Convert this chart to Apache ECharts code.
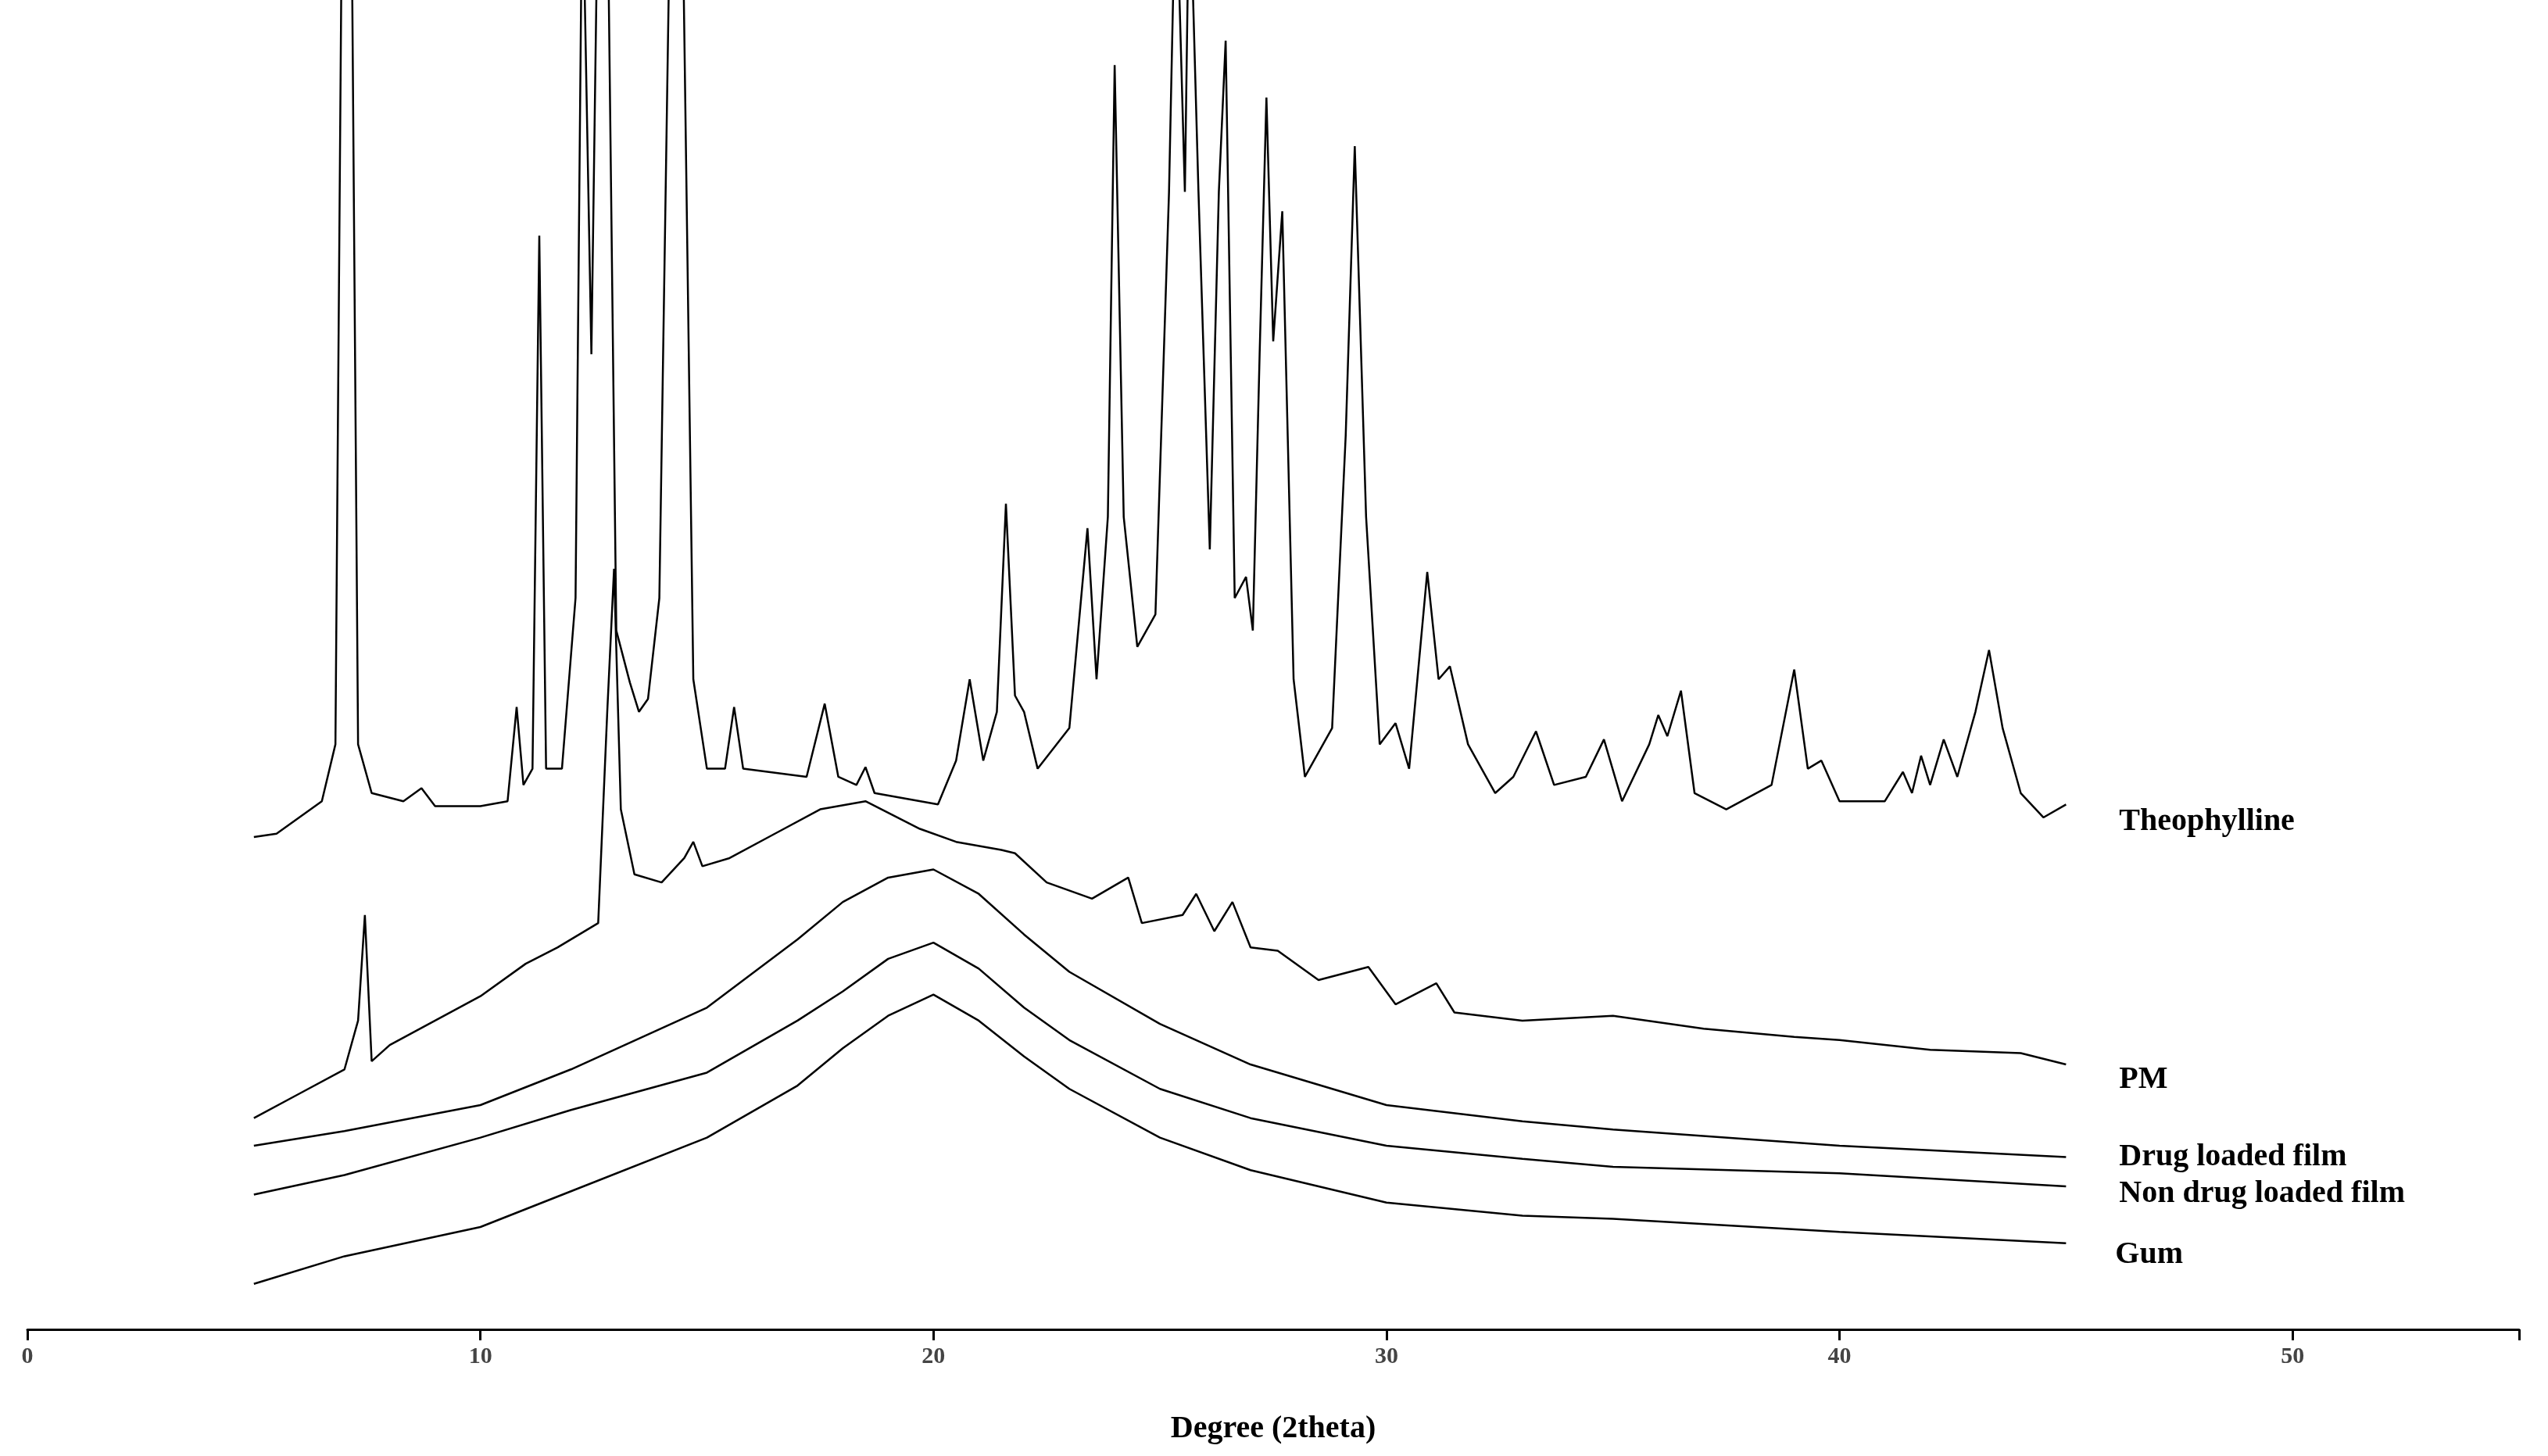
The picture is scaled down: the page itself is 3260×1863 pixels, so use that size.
<!DOCTYPE html>
<html><head><meta charset="utf-8">
<script src="https://cdn.jsdelivr.net/npm/echarts@6/dist/echarts.min.js"></script>
<style>html,body{margin:0;background:#fff}#c{width:3260px;height:1863px}</style>
</head><body><div id="c"></div>
<script>
// diffraction patterns, [2theta, offset intensity]
const theophylline = [[5,303],[5.5,305],[6,315],[6.5,325],[6.8,360],[6.95,900],[7.15,900],[7.3,360],[7.6,330],[8.3,325],[8.7,333],[9.0,322],[10,322],[10.6,325],[10.8,383],[10.95,335],[11.15,345],[11.3,673],[11.45,345],[11.8,345],[12.1,450],[12.25,900],[12.45,600],[12.6,900],[12.8,900],[13.0,430],[13.3,398],[13.5,380],[13.7,388],[13.95,450],[14.2,900],[14.45,900],[14.7,400],[15.0,345],[15.4,345],[15.6,383],[15.8,345],[17.2,340],[17.6,385],[17.9,340],[18.3,335],[18.5,346],[18.7,330],[20.1,323],[20.5,350],[20.8,400],[21.1,350],[21.4,380],[21.6,508],[21.8,390],[22.0,380],[22.3,345],[23.0,370],[23.4,493],[23.6,400],[23.85,500],[24.0,778],[24.2,500],[24.5,420],[24.9,440],[25.2,700],[25.35,900],[25.55,700],[25.65,900],[25.85,700],[26.1,480],[26.3,700],[26.45,793],[26.65,450],[26.9,463],[27.05,430],[27.2,600],[27.35,758],[27.5,608],[27.7,688],[27.95,400],[28.2,340],[28.8,370],[29.1,550],[29.3,728],[29.55,500],[29.85,360],[30.2,373],[30.5,345],[30.9,466],[31.15,400],[31.4,408],[31.8,360],[32.4,330],[32.8,340],[33.3,368],[33.7,335],[34.4,340],[34.8,363],[35.2,325],[35.8,360],[36.0,378],[36.2,365],[36.5,393],[36.8,330],[37.5,320],[38.5,335],[39.0,406],[39.3,345],[39.6,350],[40.0,325],[41.0,325],[41.4,343],[41.6,330],[41.8,353],[42.0,335],[42.3,363],[42.6,340],[43.0,380],[43.3,418],[43.6,370],[44.0,330],[44.5,315],[45,323]];
const pm = [[5,130],[6,145],[7,160],[7.3,190],[7.45,255],[7.6,165],[8,175],[9,190],[10,205],[11,225],[11.7,235],[12.6,250],[12.8,380],[12.95,468],[13.1,320],[13.4,280],[14,275],[14.5,290],[14.7,300],[14.9,285],[15.5,290],[16.5,305],[17.5,320],[18.5,325],[19.7,308],[20.5,300],[21.5,295],[21.8,293],[22.5,275],[23.5,265],[24.3,278],[24.6,250],[25.5,255],[25.8,268],[26.2,245],[26.6,263],[27,235],[27.6,233],[28.5,215],[29.6,223],[30.2,200],[31.1,213],[31.5,195],[33,190],[35,193],[37,185],[39,180],[40,178],[42,172],[44,170],[45,163]];
const drugFilm = [[5,113],[7,122],[10,138],[12,160],[15,198],[17,240],[18,263],[19,278],[20,283],[21,268],[22,243],[23,220],[25,188],[27,163],[30,138],[33,128],[35,123],[40,113],[45,106]];
const nonDrugFilm = [[5,83],[7,95],[10,118],[12,135],[15,158],[17,190],[18,208],[19,228],[20,238],[21,222],[22,198],[23,178],[25,148],[27,130],[30,113],[33,105],[35,100],[40,96],[45,88]];
const gum = [[5,28],[7,45],[10,63],[12,85],[15,118],[17,150],[18,173],[19,193],[20,206],[21,190],[22,168],[23,148],[25,118],[27,98],[30,78],[33,70],[35,68],[40,60],[45,53]];
const names = ['Theophylline', 'PM', 'Drug loaded film', 'Non drug loaded film', 'Gum'];
const labelOffsets = [[60, 22], [60, 20], [60, 0], [60, 10], [55, 15]];
const xTicks = [0, 10, 20, 30, 40, 50];

const font = '"Liberation Serif", serif';
const chart = echarts.init(document.getElementById('c'));
const allData = [theophylline, pm, drugFilm, nonDrugFilm, gum];
chart.setOption({
    animation: false,
    grid: {left: 35, right: 37, top: 0, bottom: 162},
    xAxis: {
        type: 'value', min: 0, max: 55, interval: 10,
        axisLine: {lineStyle: {color: '#000', width: 3}},
        axisTick: {length: 14, lineStyle: {color: '#000', width: 3}},
        splitLine: {show: false},
        axisLabel: {fontFamily: font, fontWeight: 'bold', fontSize: 30, color: '#444', margin: 20,
            formatter: v => xTicks.includes(v) ? String(v) : ''},
        name: 'Degree (2theta)', nameLocation: 'middle', nameGap: 108,
        nameTextStyle: {fontFamily: font, fontWeight: 'bold', fontSize: 40, color: '#000'}
    },
    yAxis: {type: 'value', min: 0, max: 818, show: false},
    series: allData.map((d, i) => ({
        type: 'line', data: d, showSymbol: false, clip: true,
        lineStyle: {color: '#000', width: 2.5},
        endLabel: {show: true, formatter: names[i], offset: labelOffsets[i],
            fontFamily: font, fontWeight: 'bold', fontSize: 40, color: '#000'}
    }))
});
</script></body></html>
